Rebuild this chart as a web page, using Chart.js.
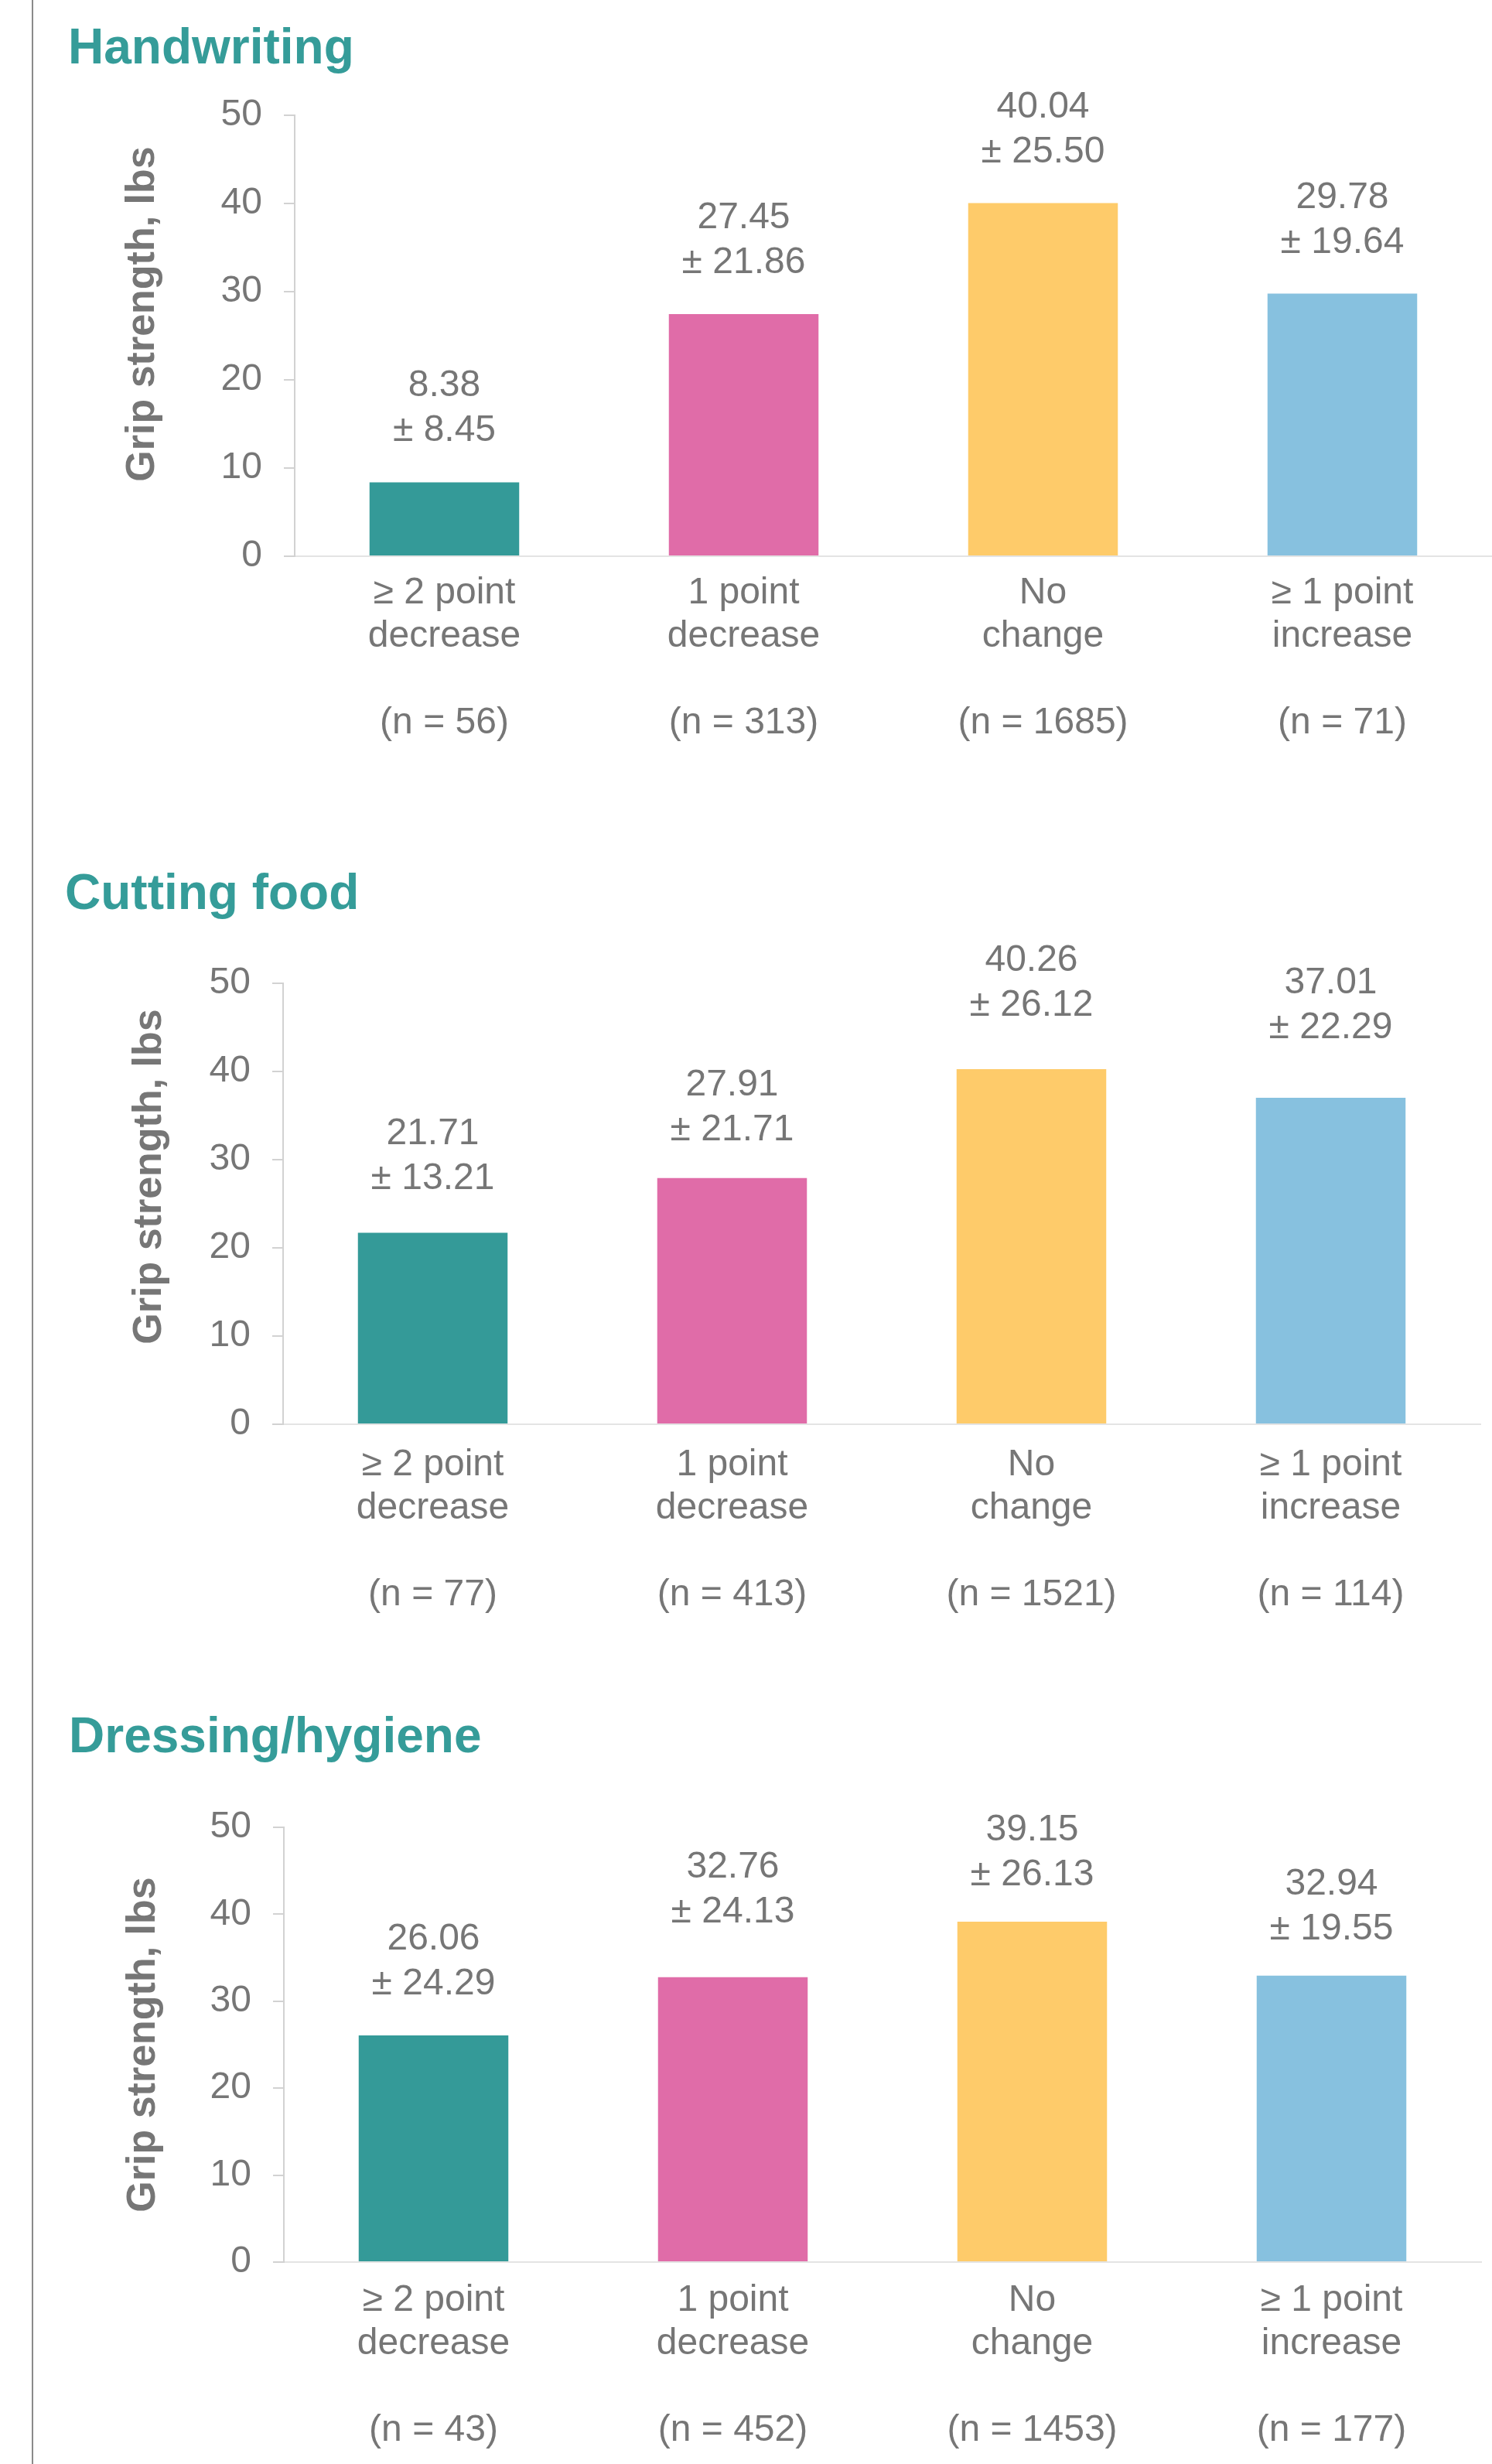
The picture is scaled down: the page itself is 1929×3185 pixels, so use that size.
<!DOCTYPE html>
<html>
<head>
<meta charset="utf-8">
<title>Grip strength by change in function score</title>
<script src="https://cdn.jsdelivr.net/npm/chart.js@4.4.1/dist/chart.umd.min.js"></script>
<style>
  html, body { margin: 0; padding: 0; background: #fff; }
  body { width: 1929px; height: 3185px; position: relative; overflow: hidden; }
  .rule { position: absolute; left: 41px; top: 0; width: 2px; height: 3185px; background: #8a8a8a; }
  .panel { position: absolute; left: 0; width: 1929px; }
  .panel canvas { display: block; }
</style>
</head>
<body>
<div class="rule"></div>
<div class="panel" style="top:0"><canvas id="handwriting" width="1929" height="1040"></canvas></div>
<div class="panel" style="top:1040px"><canvas id="cutting" width="1929" height="1100"></canvas></div>
<div class="panel" style="top:2140px"><canvas id="dressing" width="1929" height="1045"></canvas></div>

<script>
// change groups on the x axis
const categories = [
  ['≥ 2 point', 'decrease'],
  ['1 point', 'decrease'],
  ['No', 'change'],
  ['≥ 1 point', 'increase']
];
const yTicks = [0, 10, 20, 30, 40, 50];

const handwritingMean = [8.38, 27.45, 40.04, 29.78];
const handwritingSd = [8.45, 21.86, 25.50, 19.64];
const handwritingN = [56, 313, 1685, 71];

const cuttingMean = [21.71, 27.91, 40.26, 37.01];
const cuttingSd = [13.21, 21.71, 26.12, 22.29];
const cuttingN = [77, 413, 1521, 114];

const dressingMean = [26.06, 32.76, 39.15, 32.94];
const dressingSd = [24.29, 24.13, 26.13, 19.55];
const dressingN = [43, 452, 1453, 177];

const barColors = ['#349a98', '#e06ca8', '#fecb6a', '#87c1df'];
const gray = '#767676';
const teal = '#359c99';
const FONT = '"Liberation Sans", Arial, sans-serif';
const TEXT_SIZE = 48;
const TITLE_SIZE = 64;
const TITLE_LINE = TITLE_SIZE * 1.2;

// mean and "± sd" stacked above each bar; lift nudges hand-placed labels
const valueLabels = {
  id: 'valueLabels',
  afterDatasetsDraw(chart, args, opts) {
    const { ctx } = chart;
    const ds = chart.data.datasets[0];
    ctx.save();
    ctx.font = TEXT_SIZE + 'px ' + FONT;
    ctx.fillStyle = gray;
    ctx.textAlign = 'center';
    ctx.textBaseline = 'alphabetic';
    chart.getDatasetMeta(0).data.forEach((bar, i) => {
      const base = bar.y - 53 + (opts.lift[i] || 0);
      ctx.fillText('± ' + opts.sds[i].toFixed(2), bar.x, base);
      ctx.fillText(ds.data[i].toFixed(2), bar.x, base - 58);
    });
    ctx.restore();
  }
};

// rotated axis caption, nudged off the plot centre
const sideCaption = {
  id: 'sideCaption',
  afterDraw(chart, args, opts) {
    const { ctx, chartArea } = chart;
    ctx.save();
    ctx.translate(opts.x, (chartArea.top + chartArea.bottom) / 2 + opts.shift);
    ctx.rotate(-Math.PI / 2);
    ctx.font = 'bold 52px ' + FONT;
    ctx.fillStyle = gray;
    ctx.textAlign = 'center';
    ctx.textBaseline = 'middle';
    ctx.fillText(opts.text, 0, 0);
    ctx.restore();
  }
};

function drawPanel(id, title, means, sds, ns, box) {
  const canvas = document.getElementById(id);
  const padTop = box.titleBaseline - 0.3465 * TITLE_SIZE - TITLE_LINE / 2;
  const labels = categories.map((c, i) => [...c, '', '(n = ' + ns[i] + ')']);

  return new Chart(canvas.getContext('2d'), {
    type: 'bar',
    data: {
      labels: labels,
      datasets: [{
        data: means,
        backgroundColor: barColors,
        borderWidth: 0,
        barPercentage: 0.5,
        categoryPercentage: 1
      }]
    },
    options: {
      responsive: false,
      animation: false,
      layout: {
        padding: { top: padTop, left: box.titleLeft, right: canvas.width - box.right, bottom: 0 }
      },
      plugins: {
        legend: { display: false },
        tooltip: { enabled: false },
        title: {
          display: true,
          text: title,
          align: 'start',
          color: teal,
          font: { family: FONT, size: TITLE_SIZE, weight: 'bold', lineHeight: 1.2 },
          padding: { top: 0, bottom: box.top - padTop - TITLE_LINE }
        },
        valueLabels: { sds: sds, lift: box.lift },
        sideCaption: { text: 'Grip strength, lbs', x: box.captionX, shift: box.captionShift }
      },
      scales: {
        x: {
          offset: true,
          grid: { display: false, drawTicks: false },
          border: { display: true, color: '#e4e4e4', width: 2 },
          ticks: {
            color: gray,
            font: { family: FONT, size: TEXT_SIZE, lineHeight: 56 / TEXT_SIZE },
            padding: box.labelPad,
            maxRotation: 0,
            autoSkip: false
          },
          afterFit(scale) { scale.height = canvas.height - box.bottom; }
        },
        y: {
          min: yTicks[0],
          max: yTicks[yTicks.length - 1],
          ticks: {
            stepSize: yTicks[1] - yTicks[0],
            color: gray,
            font: { family: FONT, size: TEXT_SIZE },
            padding: 28
          },
          grid: { drawOnChartArea: false, drawTicks: true, tickLength: 14, color: '#d2d2d2', lineWidth: 2 },
          border: { display: true, color: '#d2d2d2', width: 2 },
          afterFit(scale) { scale.width = box.axis - box.titleLeft; }
        }
      }
    },
    plugins: [valueLabels, sideCaption]
  });
}

drawPanel('handwriting', 'Handwriting', handwritingMean, handwritingSd, handwritingN, {
  titleBaseline: 87, top: 149, bottom: 719, axis: 381, right: 1929, titleLeft: 88,
  captionX: 185, captionShift: -28, labelPad: 20, lift: [0, 0, 0, 0]
});
drawPanel('cutting', 'Cutting food', cuttingMean, cuttingSd, cuttingN, {
  titleBaseline: 140, top: 231, bottom: 801, axis: 366, right: 1914, titleLeft: 84,
  captionX: 194, captionShift: -35, labelPad: 25, lift: [-4, 4, -16, -24]
});
drawPanel('dressing', 'Dressing/hygiene', dressingMean, dressingSd, dressingN, {
  titleBaseline: 130, top: 222, bottom: 784, axis: 367, right: 1915, titleLeft: 89,
  captionX: 186, captionShift: 0, labelPad: 22, lift: [0, -18, 6, 6]
});
</script>
</body>
</html>
